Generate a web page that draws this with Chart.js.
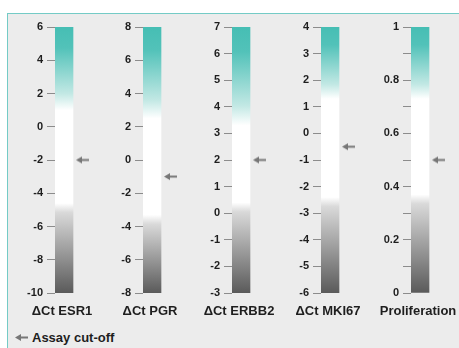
<!DOCTYPE html>
<html>
<head>
<meta charset="utf-8">
<script src="https://cdn.jsdelivr.net/npm/chart.js@4/dist/chart.umd.min.js"></script>
<style>
  body { margin: 0; background: #fff; width: 459px; height: 348px; overflow: hidden; position: relative;
         font-family: "Liberation Sans", Arial, sans-serif; }
  #panel { position: absolute; left: 7px; top: 13px; width: 470px; height: 350px; background: #ececec;
           border-left: 1px solid #74cbc6; border-top: 1px solid #74cbc6; }
  canvas.col { position: absolute; top: 0; }
  #legend { position: absolute; left: 14px; top: 330px; font-weight: bold; font-size: 13px; color: #1e1e1e;
            line-height: 16px; white-space: nowrap; }
  #legend canvas { vertical-align: middle; margin-right: 3px; position: relative; top: -1px; }
</style>
</head>
<body>
<div id="panel"></div>
<canvas class="col" id="c0" width="110" height="323" style="left:5px"></canvas>
<canvas class="col" id="c1" width="110" height="323" style="left:93px"></canvas>
<canvas class="col" id="c2" width="110" height="323" style="left:182px"></canvas>
<canvas class="col" id="c3" width="110" height="323" style="left:271px"></canvas>
<canvas class="col" id="c4" width="110" height="323" style="left:361px"></canvas>
<div id="legend"><canvas id="legArrow" width="15" height="9"></canvas>Assay cut-off</div>
<script>
// 各マーカー
var labels   = ['ΔCt ESR1', 'ΔCt PGR', 'ΔCt ERBB2', 'ΔCt MKI67', 'Proliferation'];
var scaleMin = [-10, -8, -3, -6, 0];
var scaleMax = [6, 8, 7, 4, 1];
var tickStep = [2, 2, 1, 1, 0.1];
// カットオフ値（矢印）
var cutOff   = [-2, -1, 2, -0.5, 0.5];
// グラデーションの境目（青緑→白、白→灰）
var tealEnd  = [1.0, 2.5, 3.3, 1.3, 0.73];
var whiteEnd = [-4.6, -3.3, 0.4, -2.4, 0.37];

Chart.defaults.font.family = "'Liberation Sans', Arial, sans-serif";

// 矢印の画像
var drawArrow = function(g, x0, cy){
  g.fillStyle = '#777777';
  g.beginPath();
  g.moveTo(x0, cy);
  g.lineTo(x0 + 6, cy - 3.5);
  g.lineTo(x0 + 6, cy + 3.5);
  g.closePath();
  g.fill();
  g.fillRect(x0 + 5, cy - 1, 8, 2);
};
var makeArrow = function(w, h, x0){
  var c = document.createElement('canvas');
  c.width = w; c.height = h;
  drawArrow(c.getContext('2d'), x0, h / 2);
  return c;
};
var arrowImg = makeArrow(24, 9, 6);
drawArrow(document.getElementById('legArrow').getContext('2d'), 1, 4.5);

var barFill = function(i){
  return function(context){
    var chart = context.chart;
    if (!chart.chartArea) return '#ffffff';
    var y = chart.scales.y;
    var top = y.getPixelForValue(scaleMax[i]);
    var bottom = y.getPixelForValue(scaleMin[i]);
    var pos = function(v){ return Math.min(1, Math.max(0, (y.getPixelForValue(v) - top) / (bottom - top))); };
    var t = pos(tealEnd[i]), w = pos(whiteEnd[i]);
    var g = chart.ctx.createLinearGradient(0, top, 0, bottom);
    g.addColorStop(0, '#46beb4');
    g.addColorStop(t * 0.25, '#52c2b9');
    g.addColorStop(t * 0.8, '#c2e8e4');
    g.addColorStop(t, '#ffffff');
    g.addColorStop(w, '#ffffff');
    g.addColorStop(Math.min(1, w + 0.035), '#d9d9d9');
    g.addColorStop(1, '#5a5a5a');
    return g;
  };
};

var drawColumn = function(i){
  var ctx = document.getElementById('c' + i).getContext('2d');
  var config = {
    type: 'bar',
    data: {
      labels: [labels[i], ''],
      datasets: [
        { data: [[scaleMin[i], scaleMax[i]], null], backgroundColor: barFill(i),
          borderWidth: 0, barPercentage: 1, categoryPercentage: 1 },
        { type: 'line', data: [null, cutOff[i]], showLine: false, pointStyle: arrowImg,
          pointRadius: 5, clip: false }
      ]
    },
    options: {
      responsive: false,
      animation: false,
      events: [],
      layout: { padding: { top: 27, right: 24, left: 0, bottom: 0 } },
      plugins: { legend: { display: false }, tooltip: { enabled: false } },
      scales: {
        x: {
          grid: { display: false, drawTicks: false },
          border: { display: false },
          ticks: { autoSkip: false, maxRotation: 0, minRotation: 0, padding: 11, labelOffset: -2,
                   color: '#1e1e1e', font: { size: 13, weight: 'bold' } },
          afterFit: function(s){ s.height = 30; s.paddingLeft = 0; s.paddingRight = 0; }
        },
        y: {
          min: scaleMin[i], max: scaleMax[i],
          grid: { drawOnChartArea: false, drawTicks: true, tickLength: 8, color: '#8c8c8c' },
          border: { display: false },
          ticks: {
            stepSize: tickStep[i], padding: 4, color: '#1e1e1e', font: { size: 11, weight: 'bold' },
            callback: function(v){
              if (tickStep[i] < 1) {
                var n = Math.round(v * 10);
                return n % 2 ? '' : String(n / 10);
              }
              return String(v);
            }
          },
          afterFit: function(s){ s.width = 50; s.paddingTop = 0; s.paddingBottom = 0; }
        }
      }
    }
  };
  new Chart(ctx, config);
};

window.onload = function(){
  for (var i = 0; i < labels.length; i++) drawColumn(i);
};
</script>
</body>
</html>
